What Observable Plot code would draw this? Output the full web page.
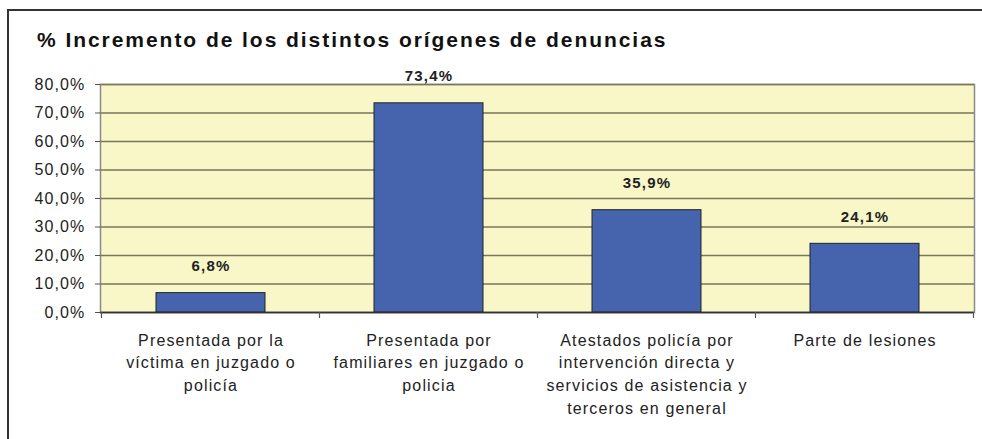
<!DOCTYPE html>
<html>
<head>
<meta charset="utf-8">
<script src="https://cdn.jsdelivr.net/npm/d3@7"></script>
<script src="https://cdn.jsdelivr.net/npm/@observablehq/plot@0.6"></script>
<style>
  html, body { margin: 0; padding: 0; background: #fff; }
  #wrap { position: relative; width: 982px; height: 439px; overflow: hidden; font-family: "Liberation Sans", Arial, sans-serif; }
  #frame { position: absolute; left: 7px; top: 9px; width: 990px; height: 450px; border-left: 2px solid #333; border-top: 2px solid #333; box-sizing: border-box; }
  #title { position: absolute; left: 37px; top: 28px; font-size: 21px; font-weight: bold; color: #111; letter-spacing: 1.95px; white-space: nowrap; }
  #chart { position: absolute; left: 0; top: 0; }
</style>
</head>
<body>
<div id="wrap">
  <div id="frame"></div>
  <div id="title">% Incremento de los distintos orígenes de denuncias</div>
  <div id="chart"></div>
</div>
<script>
const categories = [
  "Presentada por la\nvíctima en juzgado o\npolicía",
  "Presentada por\nfamiliares en juzgado o\npolicia",
  "Atestados policía por\nintervención directa y\nservicios de asistencia y\nterceros en general",
  "Parte de lesiones"
];
const values = [6.8, 73.4, 35.9, 24.1];
const yTicks = [0, 10, 20, 30, 40, 50, 60, 70, 80];

const data = categories.map((c, i) => ({cat: c, val: values[i]}));
const fmt = v => v.toFixed(1).replace(".", ",") + "%";

const plot = Plot.plot({
  width: 982,
  height: 439,
  marginLeft: 100,
  marginRight: 8,
  marginTop: 84,
  marginBottom: 127,
  style: {fontFamily: "'Liberation Sans', Arial, sans-serif", fontSize: "16px", color: "#222", background: "transparent", letterSpacing: "1.15px"},
  x: {domain: categories, paddingInner: 0.5, paddingOuter: 0.25, label: null},
  y: {domain: [0, 80], label: null},
  marks: [
    Plot.frame({fill: "#f9f7c8", stroke: "#8a8a8a", strokeWidth: 1.5}),
    Plot.gridY(yTicks, {stroke: "#77775a", strokeOpacity: 1, strokeWidth: 1.3}),
    Plot.barY(data, {x: "cat", y: "val", fill: "#4664ae", stroke: "#222", strokeWidth: 1}),
    Plot.text(data, {x: "cat", y: "val", text: d => fmt(d.val), dy: -27, fontWeight: "bold", fontSize: 15, fill: "#222"}),
    Plot.ruleY([0], {stroke: "#333", strokeWidth: 1.3}),
    Plot.ruleX([0], {frameAnchor: "left", stroke: "#555", strokeWidth: 1.2}),
    Plot.axisY(yTicks, {tickFormat: fmt, tickSize: 5, tickPadding: 10, fontSize: 16, fill: "#222", stroke: "#555"}),
    Plot.axisX({tickSize: 0, tickPadding: 17, fontSize: 16, fill: "#222", lineHeight: 1.42, textOverflow: null})
  ]
});
document.getElementById("chart").appendChild(plot);

// category boundary tick marks beneath the axis, placed through the band scale
const xs = plot.scale("x");
const ys = plot.scale("y");
const svg = d3.select(plot);
const half = (xs.step - xs.bandwidth) / 2;
const edges = categories.map(c => xs.apply(c) - half)
  .concat([xs.apply(categories[categories.length - 1]) + xs.bandwidth + half]);
const y0 = ys.apply(0);
svg.append("g").selectAll("line").data(edges).join("line")
  .attr("x1", d => d).attr("x2", d => d)
  .attr("y1", y0).attr("y2", y0 + 6)
  .attr("stroke", "#555").attr("stroke-width", 1.2);
</script>
</body>
</html>
